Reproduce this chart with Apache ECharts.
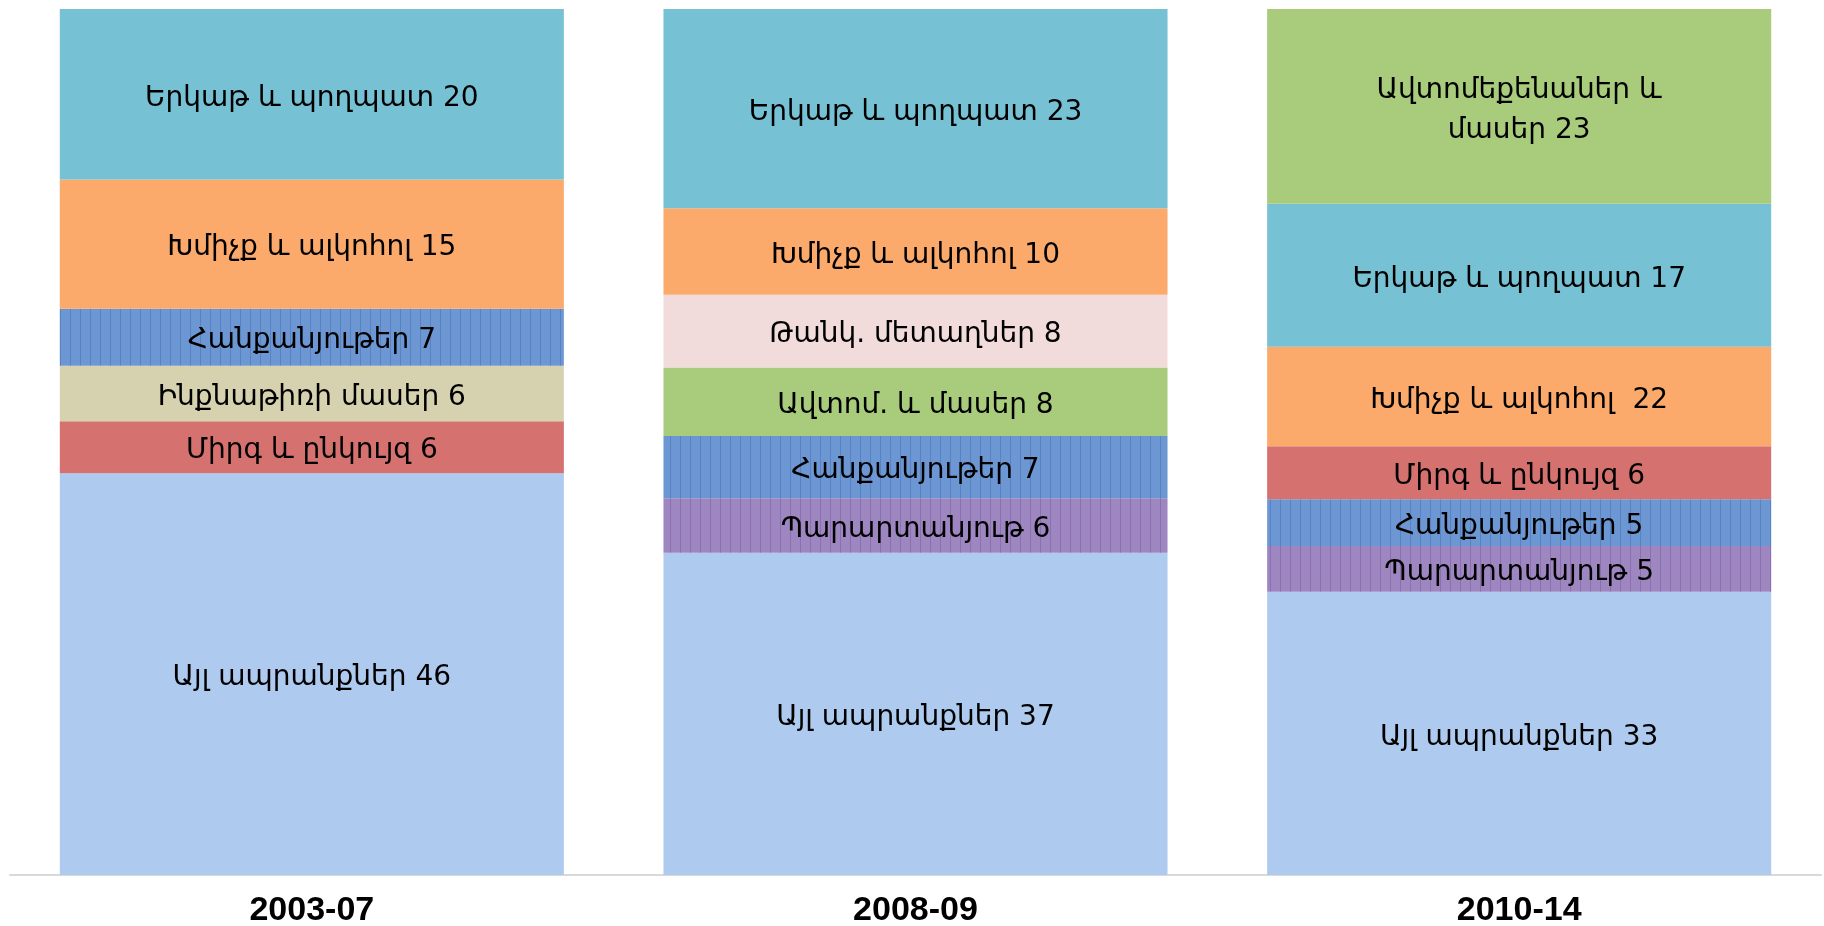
<!DOCTYPE html>
<html>
<head>
<meta charset="utf-8">
<script src="https://cdn.jsdelivr.net/npm/echarts@6/dist/echarts.min.js"></script>
<style>
html,body{margin:0;padding:0;background:#fff;}
#chart{width:1824px;height:926px;}
</style>
</head>
<body>
<div id="chart"></div>
<script>
// Categories (x axis)
const categories = ['2003-07', '2008-09', '2010-14'];

// Each column, stacked from bottom to top
const keys2003 = ['other', 'fruit', 'aircraft', 'minerals', 'drinks', 'iron'];
const values2003 = [46.4, 6.0, 6.4, 6.6, 14.9, 19.7];
const labels2003 = ['Այլ ապրանքներ 46', 'Միրգ և ընկույզ 6', 'Ինքնաթիռի մասեր 6', 'Հանքանյութեր 7', 'Խմիչք և ալկոհոլ 15', 'Երկաթ և պողպատ 20'];

const keys2008 = ['other', 'fertil', 'minerals', 'cars', 'metals', 'drinks', 'iron'];
const values2008 = [37.2, 6.3, 7.2, 7.9, 8.4, 10.0, 23.0];
const labels2008 = ['Այլ ապրանքներ 37', 'Պարարտանյութ 6', 'Հանքանյութեր 7', 'Ավտոմ. և մասեր 8', 'Թանկ. մետաղներ 8', 'Խմիչք և ալկոհոլ 10', 'Երկաթ և պողպատ 23'];

const keys2010 = ['other', 'fertil', 'minerals', 'fruit', 'drinks', 'iron', 'cars'];
const values2010 = [32.7, 5.3, 5.4, 6.1, 11.5, 16.5, 22.5];
const labels2010 = ['Այլ ապրանքներ 33', 'Պարարտանյութ 5', 'Հանքանյութեր 5', 'Միրգ և ընկույզ 6', 'Խմիչք և ալկոհոլ  22', 'Երկաթ և պողպատ 17', 'Ավտոմեքենաներ և\nմասեր 23'];

// Styles
const colorOf = {
  other: '#AECAEE',
  fruit: '#D5726F',
  aircraft: '#D6D2AF',
  minerals: '#6D97D3',
  drinks: '#FBAA6C',
  iron: '#77C1D4',
  fertil: '#9E86C0',
  cars: '#A9CB7C',
  metals: '#F2DCDB'
};
const stripeOf = {
  minerals: 'rgba(60,105,175,0.45)',
  fertil: 'rgba(110,80,150,0.4)'
};

const columns = [
  {keys: keys2003, values: values2003, labels: labels2003},
  {keys: keys2008, values: values2008, labels: labels2008},
  {keys: keys2010, values: values2010, labels: labels2010}
];

function styleFor(key) {
  const st = {color: colorOf[key]};
  if (stripeOf[key]) {
    st.decal = {
      symbol: 'rect',
      symbolSize: 1,
      dashArrayX: [[1, 9]],
      dashArrayY: [4, 0],
      rotation: 0,
      color: stripeOf[key]
    };
  }
  return st;
}

const maxLayers = Math.max(...columns.map(c => c.values.length));
const series = [];
for (let layer = 0; layer < maxLayers; layer++) {
  series.push({
    type: 'bar',
    stack: 'total',
    barWidth: '83.5%',
    silent: true,
    data: columns.map(c => {
      if (layer >= c.values.length) return null;
      return {
        value: c.values[layer],
        itemStyle: styleFor(c.keys[layer]),
        label: {formatter: c.labels[layer]}
      };
    }),
    label: {
      show: true,
      position: 'inside',
      offset: [0, 4],
      color: '#000',
      fontFamily: 'DejaVu Sans',
      fontSize: 28,
      lineHeight: 40
    }
  });
}

const chart = echarts.init(document.getElementById('chart'));
chart.setOption({
  animation: false,
  aria: {enabled: false, decal: {show: true}},
  grid: {left: 10, right: 3, top: 9, bottom: 51, containLabel: false, outerBoundsMode: 'none'},
  xAxis: {
    type: 'category',
    data: categories,
    axisLine: {show: true, lineStyle: {color: '#D9D9D9', width: 2}},
    axisTick: {show: false},
    axisLabel: {
      margin: 19,
      color: '#000',
      fontFamily: 'Liberation Sans',
      fontWeight: 'bold',
      fontSize: 34
    }
  },
  yAxis: {
    type: 'value',
    min: 0,
    max: 100,
    show: false,
    splitLine: {show: false}
  },
  series: series
});
</script>
</body>
</html>
